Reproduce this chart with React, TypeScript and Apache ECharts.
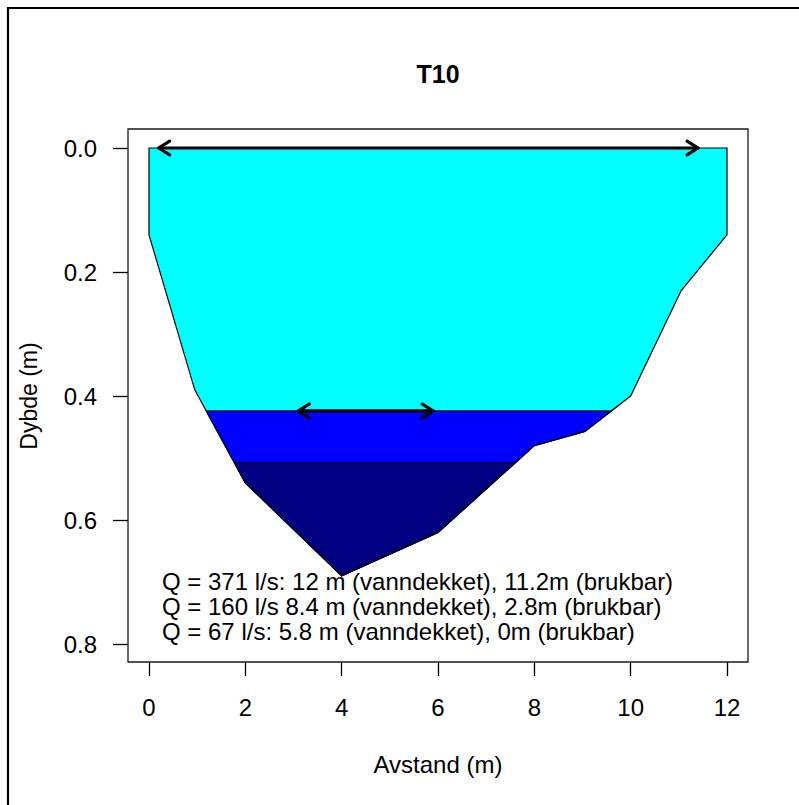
import React, { useEffect, useRef } from "react";
import * as echarts from "echarts";

const TITLE = "T10";
const X_NAME = "Avstand (m)";
const Y_NAME = "Dybde (m)";
const X_MIN = 0;
const X_MAX = 12;
const X_STEP = 2;
const Y_MIN = 0;
const Y_MAX = 0.8;
const Y_STEP = 0.2;

// Bed profile of the cross-section: distance across (m) and depth (m)
const PROFILE_X = [0, 0, 0.95, 2, 4, 6, 8, 9.05, 10, 11.05, 12, 12];
const PROFILE_DEPTH = [0, 0.14, 0.39, 0.54, 0.69, 0.62, 0.48, 0.457, 0.4, 0.23, 0.14, 0];

// Water surface (depth below reference) for each discharge
const WATER_LEVELS = [0, 0.424, 0.508];

// Usable width at each level: from, to, depth
const USABLE_FROM = [0.2, 3.1];
const USABLE_TO = [11.4, 5.9];
const USABLE_DEPTH = [0, 0.424];

const FLOW_LABELS = [
  "Q = 371 l/s: 12 m (vanndekket), 11.2m (brukbar)",
  "Q = 160 l/s 8.4 m (vanndekket), 2.8m (brukbar)",
  "Q = 67 l/s: 5.8 m (vanndekket), 0m (brukbar)",
];

const WATER_COLORS = ["#00FFFF", "#0000FF", "#000080"];
const FONT = '"Liberation Sans", Arial, sans-serif';

// Plot frame (R-style box with a margin around the data range)
const BOX = { x: 128, y: 129, w: 620, h: 533 };
const GRID = { left: 149, top: 148, width: 578, height: 496 };

// Part of the cross-section that lies below a given water surface
function clipBelow(level: number): number[][] {
  const pts = PROFILE_X.map((x, i) => [x, PROFILE_DEPTH[i]]);
  const out: number[][] = [];
  const n = pts.length;
  for (let i = 0; i < n; i++) {
    const p = pts[(i + n - 1) % n];
    const q = pts[i];
    const pin = p[1] >= level;
    const qin = q[1] >= level;
    const cross = () => {
      const t = (level - p[1]) / (q[1] - p[1]);
      return [p[0] + t * (q[0] - p[0]), level];
    };
    if (qin) {
      if (!pin) out.push(cross());
      out.push(q);
    } else if (pin) {
      out.push(cross());
    }
  }
  return out;
}

export default function App() {
  const ref = useRef<HTMLDivElement>(null);

  useEffect(() => {
    if (!ref.current) return;
    const chart = echarts.init(ref.current, null, { renderer: "svg" });

    const tickStyle = { color: "#000", width: 1.3 };

    const option: any = {
      animation: false,
      backgroundColor: "#fff",
      grid: { ...GRID, show: false },
      xAxis: {
        type: "value",
        position: "bottom",
        min: X_MIN,
        max: X_MAX,
        interval: X_STEP,
        offset: BOX.y + BOX.h - (GRID.top + GRID.height),
        axisLine: { show: false, onZero: false },
        splitLine: { show: false },
        axisTick: { show: true, inside: false, length: 14, lineStyle: tickStyle },
        axisLabel: {
          formatter: (v: number) => String(v),
          fontSize: 24,
          fontFamily: FONT,
          color: "#000",
          margin: 33,
        },
        name: X_NAME,
        nameLocation: "middle",
        nameGap: 90,
        nameTextStyle: { fontSize: 24, fontFamily: FONT, color: "#000" },
      },
      yAxis: {
        type: "value",
        position: "left",
        inverse: true,
        min: Y_MIN,
        max: Y_MAX,
        interval: Y_STEP,
        offset: GRID.left - BOX.x,
        axisLine: { show: false, onZero: false },
        splitLine: { show: false },
        axisTick: { show: true, inside: false, length: 15, lineStyle: tickStyle },
        axisLabel: {
          formatter: (v: number) => v.toFixed(1),
          fontSize: 24,
          fontFamily: FONT,
          color: "#000",
          margin: 31,
        },
        name: Y_NAME,
        nameLocation: "middle",
        nameRotate: 90,
        nameGap: 88,
        nameTextStyle: { fontSize: 23, fontFamily: FONT, color: "#000" },
      },
      series: [
        {
          type: "custom",
          coordinateSystem: "cartesian2d",
          clip: false,
          data: WATER_LEVELS.map((lvl, i) => [i, lvl]),
          renderItem: (params: any, api: any) => {
            const idx = params.dataIndex;
            const points = clipBelow(WATER_LEVELS[idx]).map((p) => api.coord(p));
            return {
              type: "polygon",
              shape: { points },
              style: { fill: WATER_COLORS[idx], stroke: "#000", lineWidth: 1.2 },
            };
          },
        },
        {
          type: "custom",
          coordinateSystem: "cartesian2d",
          clip: false,
          data: USABLE_FROM.map((x, i) => [x, USABLE_DEPTH[i]]),
          renderItem: (params: any, api: any) => {
            const i = params.dataIndex;
            const a = api.coord([USABLE_FROM[i], USABLE_DEPTH[i]]);
            const b = api.coord([USABLE_TO[i], USABLE_DEPTH[i]]);
            const h = 13;
            const ang = (32 * Math.PI) / 180;
            const head = (tip: number[], dir: number) => [
              [tip[0] + dir * h * Math.cos(ang), tip[1] - h * Math.sin(ang)],
              tip,
              [tip[0] + dir * h * Math.cos(ang), tip[1] + h * Math.sin(ang)],
            ];
            const st = { stroke: "#000", lineWidth: 3.2, fill: null, lineCap: "round", lineJoin: "round" };
            return {
              type: "group",
              children: [
                { type: "line", shape: { x1: a[0], y1: a[1], x2: b[0], y2: b[1] }, style: st },
                { type: "polyline", shape: { points: head(a, 1) }, style: st },
                { type: "polyline", shape: { points: head(b, -1) }, style: st },
              ],
            };
          },
          z: 5,
        },
      ],
      graphic: [
        {
          type: "polyline",
          shape: { points: [[8, 805], [8, 8], [799, 8]] },
          style: { stroke: "#000", lineWidth: 2.2, fill: null },
          silent: true,
        },
        {
          type: "rect",
          shape: { x: BOX.x, y: BOX.y, width: BOX.w, height: BOX.h },
          style: { stroke: "#1a1a1a", lineWidth: 1.3, fill: null },
          silent: true,
          z: 1,
        },
        {
          type: "text",
          x: (BOX.x * 2 + BOX.w) / 2,
          y: 74,
          style: {
            text: TITLE,
            fontSize: 25,
            fontWeight: "bold",
            fontFamily: FONT,
            fill: "#000",
            align: "center",
            verticalAlign: "middle",
          },
        },
        ...FLOW_LABELS.map((t, i) => ({
          type: "text",
          x: 162,
          y: 581 + i * 25,
          z: 10,
          style: {
            text: t,
            fontSize: 24,
            fontFamily: FONT,
            fill: "#000",
            align: "left",
            verticalAlign: "middle",
          },
        })),
      ],
    };

    chart.setOption(option);
    return () => chart.dispose();
  }, []);

  return (
    <div
      ref={ref}
      style={{ position: "fixed", left: 0, top: 0, width: 799, height: 805, background: "#fff" }}
    />
  );
}
